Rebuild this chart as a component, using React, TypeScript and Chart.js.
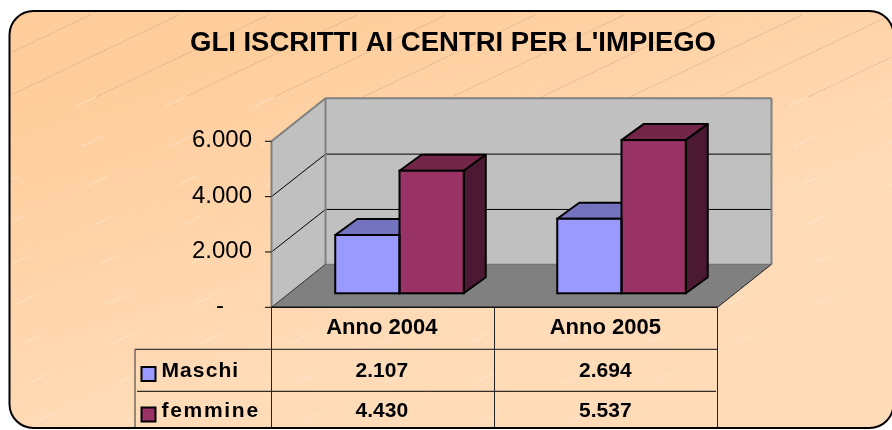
import React, { useEffect, useRef } from "react";
import { Chart, registerables } from "chart.js";

Chart.register(...registerables);

const categories = ["Anno 2004", "Anno 2005"];
const maschi = [2107, 2694];
const femmine = [4430, 5537];
const maschiText = ["2.107", "2.694"];
const femmineText = ["4.430", "5.537"];
const seriesNames = ["Maschi", "femmine"];
const titleText = "GLI ISCRITTI AI CENTRI PER L'IMPIEGO";
const tickText: Record<number, string> = { 0: "-", 2000: "2.000", 4000: "4.000", 6000: "6.000" };

const FONT = '"Liberation Sans", Arial, sans-serif';
const FRONT = { dx: -17, dy: 14 };
const BACK = { dx: 37, dy: -29 };
const DEPTH = { dx: 22, dy: -16 };
const maleColors = { front: "#9999FF", top: "#7373BF", side: "#4C4C7F" };
const femaleColors = { front: "#993366", top: "#732648", side: "#4C1933" };

function poly(ctx: CanvasRenderingContext2D, pts: number[][], fill?: string, stroke?: string, lw = 1) {
  ctx.beginPath();
  pts.forEach((p, i) => (i ? ctx.lineTo(p[0], p[1]) : ctx.moveTo(p[0], p[1])));
  ctx.closePath();
  if (fill) { ctx.fillStyle = fill; ctx.fill(); }
  if (stroke) { ctx.strokeStyle = stroke; ctx.lineWidth = lw; ctx.stroke(); }
}

function line(ctx: CanvasRenderingContext2D, x1: number, y1: number, x2: number, y2: number, c = "#000", lw = 1) {
  ctx.beginPath();
  ctx.moveTo(x1, y1);
  ctx.lineTo(x2, y2);
  ctx.strokeStyle = c;
  ctx.lineWidth = lw;
  ctx.stroke();
}

function frame(ctx: CanvasRenderingContext2D) {
  ctx.beginPath();
  ctx.roundRect(9.5, 11, 884, 417, 24);
}

function text(ctx: CanvasRenderingContext2D, s: string, x: number, y: number, font: string, align: CanvasTextAlign, spacing = "0px") {
  ctx.font = font;
  ctx.textAlign = align;
  ctx.textBaseline = "middle";
  ctx.fillStyle = "#000";
  (ctx as any).letterSpacing = spacing;
  ctx.fillText(s, x, y);
  (ctx as any).letterSpacing = "0px";
}

const scenePlugin = {
  id: "scene",
  beforeDraw(chart: any) {
    const { ctx, scales } = chart;
    const x = scales.x;
    const y = scales.y;
    ctx.save();
    // panel
    frame(ctx);
    const g = ctx.createLinearGradient(0, 110, 100, 430);
    g.addColorStop(0, "#FFCD9B");
    g.addColorStop(1, "#FFDBB8");
    ctx.fillStyle = g;
    ctx.fill();
    ctx.save();
    frame(ctx);
    ctx.clip();
    // hatch band
    ctx.beginPath();
    ctx.rect(13, 15, 880, 82);
    ctx.clip();
    ctx.setLineDash([2, 1]);
    for (let k = 0; k < 12; k++) {
      const x0 = 90 + 89 * k;
      line(ctx, x0, 15, x0 - 172, 97, "rgba(150,125,100,0.5)", 0.7);
    }
    ctx.setLineDash([]);
    ctx.restore();
    // faint streaks below
    ctx.save();
    frame(ctx);
    ctx.clip();
    ctx.setLineDash([22, 70]);
    for (let k = 0; k < 16; k++) {
      const x0 = 90 + 89 * k;
      line(ctx, x0 - 172, 97, x0 - 172 - 700, 97 + 333, "rgba(255,240,225,0.55)", 1);
    }
    ctx.setLineDash([]);
    ctx.restore();

    // 3D box
    const xl = x.left, xr = x.right;
    const y0 = y.getPixelForValue(0), yM = y.getPixelForValue(y.max);
    const fl = xl + FRONT.dx, fr = xr + FRONT.dx + 2;
    const bl = xl + BACK.dx, br = xr + BACK.dx + 2;
    const fy0 = y0 + FRONT.dy, fyM = yM + FRONT.dy;
    const by0 = y0 + BACK.dy, byM = yM + BACK.dy;

    poly(ctx, [[fl, fyM], [bl, byM], [bl, by0], [fl, fy0]], "#C0C0C0");
    poly(ctx, [[bl, byM], [br, byM], [br, by0], [bl, by0]], "#C0C0C0");
    poly(ctx, [[fl, fy0], [fr, fy0], [br, by0], [bl, by0]], "#808080");

    for (const t of y.ticks) {
      if (t.value === 0 || t.value === y.max) continue;
      const py = y.getPixelForValue(t.value);
      line(ctx, fl, py + FRONT.dy, bl, py + BACK.dy + 0.5, "#000", 1);
      line(ctx, bl, py + BACK.dy + 0.5, br, py + BACK.dy + 0.5, "#000", 1);
    }
    line(ctx, bl, byM, bl, by0, "#808080", 2);
    line(ctx, bl, byM, br, byM, "#808080", 2);
    line(ctx, br, byM, br, by0, "#808080", 2);
    line(ctx, bl, by0, br, by0, "#6E6E6E", 1);
    line(ctx, fl, fyM, bl, byM, "#808080", 2);
    line(ctx, fl, fyM, fl, fy0, "#808080", 2);
    line(ctx, fl, fy0, bl, by0, "#333", 1);
    line(ctx, fr, fy0, br, by0, "#222", 1);

    // y ticks and labels
    for (const t of y.ticks) {
      const py = y.getPixelForValue(t.value) + FRONT.dy;
      line(ctx, fl - 6.5, py, fl, py, "#000", 1);
      const label = tickText[t.value];
      if (t.value === 0) text(ctx, label, 224, py - 0.5, `24px ${FONT}`, "right");
      else text(ctx, label, 252, py - 0.5, `24px ${FONT}`, "right");
    }

    // data table
    const rows = [fy0 + 42, fy0 + 84];
    const bottom = 428;
    const mid = (x.getPixelForValue(0) + x.getPixelForValue(1)) / 2 + FRONT.dx + 1;
    line(ctx, fl, fy0, fr, fy0, "#111", 1.6);
    line(ctx, 135, rows[0], fr, rows[0], "#111", 1);
    line(ctx, 137, rows[1], fr - 1.5, rows[1], "#000", 1);
    line(ctx, fl, fy0, fl, bottom, "#222", 1);
    line(ctx, mid, fy0, mid, bottom, "#222", 1);
    line(ctx, fr, fy0, fr, bottom, "#222", 1);
    line(ctx, 135, rows[0], 135, bottom, "#333", 1);

    const headFont = `bold 22px ${FONT}`;
    const valueFont = `bold 21px ${FONT}`;
    const rowCy = [371, 411.5];
    categories.forEach((c, i) => {
      const cx = x.getPixelForValue(i) + FRONT.dx + (i === 0 ? -0.7 : 0.8);
      text(ctx, c, cx, 327.5, headFont, "center");
      text(ctx, maschiText[i], cx, rowCy[0], valueFont, "center");
      text(ctx, femmineText[i], cx, rowCy[1], valueFont, "center");
    });
    seriesNames.forEach((name, i) => {
      const col = i === 0 ? maleColors.front : femaleColors.front;
      ctx.fillStyle = col;
      ctx.fillRect(141.5, rowCy[i] - 4, 14, 14);
      ctx.strokeStyle = "#000";
      ctx.lineWidth = 2;
      ctx.strokeRect(141.5, rowCy[i] - 4, 14, 14);
      text(ctx, name, 161.5, rowCy[i], valueFont, "left", i === 0 ? "1.1px" : "1.7px");
    });

    text(ctx, titleText, 453, 43.5, `bold 27.5px ${FONT}`, "center", "0px");

    frame(ctx);
    ctx.strokeStyle = "#000";
    ctx.lineWidth = 2;
    ctx.stroke();
    ctx.restore();
  },
  beforeDatasetsDraw(chart: any) {
    const { ctx } = chart;
    ctx.save();
    ctx.lineJoin = "round";
    chart.data.datasets.forEach((ds: any, di: number) => {
      const c = di === 0 ? maleColors : femaleColors;
      chart.getDatasetMeta(di).data.forEach((bar: any) => {
        const l = bar.x - bar.width / 2, r = bar.x + bar.width / 2;
        const t = bar.y, b = bar.base;
        poly(ctx, [[l, t], [l + DEPTH.dx, t + DEPTH.dy], [r + DEPTH.dx, t + DEPTH.dy], [r, t]], c.top, "#000", 2);
        poly(ctx, [[r, t], [r + DEPTH.dx, t + DEPTH.dy], [r + DEPTH.dx, b + DEPTH.dy], [r, b]], c.side, "#000", 2);
      });
    });
    ctx.restore();
  },
  afterDatasetsDraw(chart: any) {
    const { ctx } = chart;
    ctx.save();
    chart.data.datasets.forEach((_: any, di: number) => {
      chart.getDatasetMeta(di).data.forEach((bar: any) => {
        ctx.strokeStyle = "#000";
        ctx.lineWidth = 2;
        ctx.strokeRect(bar.x - bar.width / 2, bar.y, bar.width, bar.base - bar.y);
      });
    });
    ctx.restore();
  },
};

export default function App() {
  const ref = useRef<HTMLCanvasElement>(null);
  useEffect(() => {
    const chart = new Chart(ref.current as HTMLCanvasElement, {
      type: "bar",
      data: {
        labels: categories,
        datasets: [
          { label: seriesNames[0], data: maschi, backgroundColor: maleColors.front, borderWidth: 0 },
          { label: seriesNames[1], data: femmine, backgroundColor: femaleColors.front, borderWidth: 0 },
        ],
      },
      options: {
        responsive: false,
        animation: false,
        layout: { padding: { left: 288.5, right: 159.5, top: 127.3, bottom: 136.7 } },
        datasets: { bar: { barPercentage: 1, categoryPercentage: 0.579 } },
        plugins: { legend: { display: false }, title: { display: false }, tooltip: { enabled: false } },
        scales: {
          x: { display: false },
          y: { display: false, min: 0, max: 6000, ticks: { stepSize: 2000 } },
        },
      },
      plugins: [scenePlugin],
    } as any);
    return () => chart.destroy();
  }, []);
  return (
    <div style={{ position: "absolute", left: 0, top: 0, width: 892, height: 430, overflow: "hidden" }}>
      <canvas ref={ref} width={892} height={430} style={{ display: "block" }} />
    </div>
  );
}
